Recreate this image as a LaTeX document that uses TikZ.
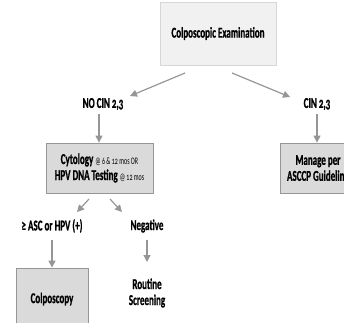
\documentclass[tikz,border=0pt]{standalone}
\usepackage{fontspec}
\setmainfont{Carlito}[FakeStretch=0.6, Numbers=OldStyle, BoldFeatures={FakeBold=0.8}]
\usetikzlibrary{arrows.meta, positioning}
\definecolor{boxlight}{RGB}{241,241,241}
\definecolor{edgelight}{RGB}{214,214,214}
\definecolor{boxgray}{RGB}{218,218,218}
\definecolor{edgegray}{RGB}{150,150,150}
\definecolor{linegray}{RGB}{150,150,150}
\tikzset{
  topbox/.style={draw=edgelight, fill=boxlight, minimum width=116pt, minimum height=63pt, font=\bfseries\fontsize{15}{17}\selectfont},
  graybox/.style={draw=edgegray, fill=boxgray, line width=0.8pt, align=center, font=\bfseries\fontsize{15}{17}\selectfont},
  lbl/.style={align=center, font=\bfseries\fontsize{15}{17}\selectfont},
  arr/.style={-{Triangle[length=7pt,width=7pt]}, linegray, line width=1.2pt}
}
\newcommand{\when}[1]{{\mdseries\fontsize{10}{10}\selectfont #1}}

\begin{document}
\begin{tikzpicture}[x=1pt, y=-1pt]
  \useasboundingbox (0,0) rectangle (344,322);
  \clip (0,0) rectangle (344,322);
  % Exam
  \node[topbox] (exam) at (218,33.5) {Colposcopic Examination};
  % Results
  \node[lbl] (nocin) at (103,104) {NO CIN 2,3};
  \node[lbl] (cin) at (317,104) {CIN 2,3};
  \coordinate (examL) at (185,73);
  \coordinate (examR) at (232,73);
  \coordinate (nocinT) at (130,96);
  \coordinate (cinT) at (290,97);
  \draw[arr] (examL) -- (nocinT);
  \draw[arr] (examR) -- (cinT);
  % Follow-up
  \node[graybox, minimum width=107pt, minimum height=50pt] (cyto) at (99.5,168)
    {Cytology \when{@ 6 \& 12 mos OR}\\[-1pt]HPV DNA Testing \when{@ 12 mos}};
  \node[graybox, minimum width=76pt, minimum height=50pt] (manage) at (318,168)
    {Manage per\\[-1pt]ASCCP Guideline};
  \draw[arr] (99,114) coordinate (nocinB) -- (cyto.north -| nocinB);
  \draw[arr] (317,114) coordinate (cinB) -- (manage.north -| cinB);
  % Cytology outcome
  \node[lbl] (pos) at (52,226) {≥ ASC or HPV (+)};
  \node[lbl] (neg) at (147,226) {Negative};
  \coordinate (cytoBL) at (89,199);
  \coordinate (cytoBR) at (110,199);
  \coordinate (posT) at (77,212);
  \coordinate (negT) at (122,212);
  \draw[arr] (cytoBL) -- (posT);
  \draw[arr] (cytoBR) -- (negT);
  \node[graybox, minimum width=72pt, minimum height=62pt] (colpo) at (52,299) {Colposcopy};
  \node[lbl] (routine) at (147,293) {Routine\\[-1pt]Screening};
  \draw[arr] (52,240) coordinate (posB) -- (colpo.north -| posB);
  \draw[arr] (147,240) coordinate (negB) -- (147,262) coordinate (routineT);
\end{tikzpicture}
\end{document}
